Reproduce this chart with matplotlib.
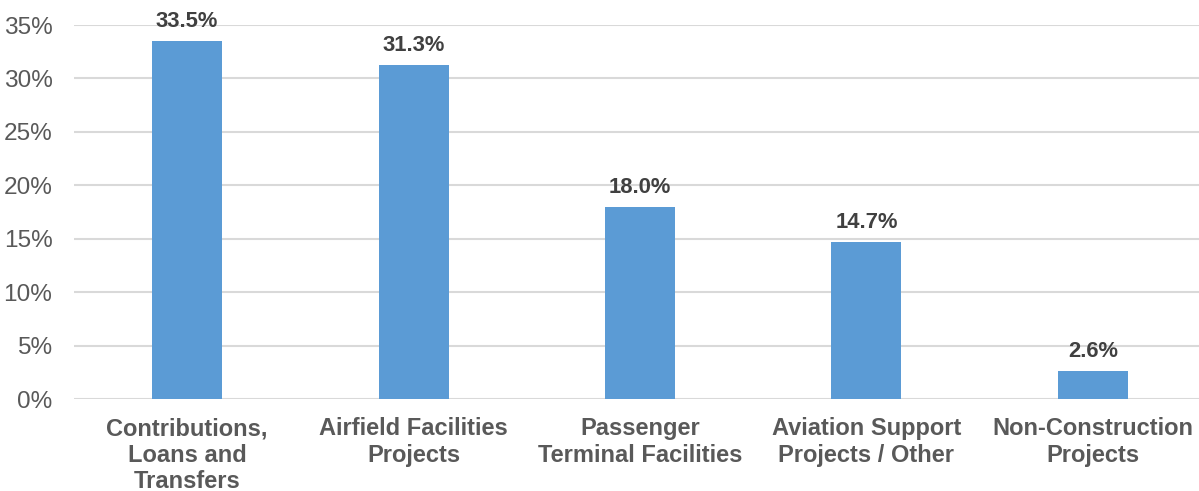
import numpy as np
import matplotlib.pyplot as plt

plt.rcParams['font.family'] = ['Liberation Sans', 'DejaVu Sans']

categories = ["Contributions,\nLoans and\nTransfers", "Airfield Facilities\nProjects",
              "Passenger\nTerminal Facilities", "Aviation Support\nProjects / Other",
              "Non-Construction\nProjects"]
values = [33.5, 31.3, 18.0, 14.7, 2.6]
yticks = [0, 5, 10, 15, 20, 25, 30, 35]

fig = plt.figure(figsize=(11.99, 4.91), dpi=100)
ax = fig.add_axes([74/1199, 92/491, (1206-74)/1199, 374/491])

x = np.arange(len(categories))
ax.bar(x, values, width=0.31, color='#5B9BD5', zorder=3)

for xi, v in zip(x, values):
    ax.annotate(f"{v:.1f}%", (xi, v), xytext=(0, 6.5), textcoords='offset points',
                ha='center', va='bottom', fontsize=15.8, fontweight='bold', color='#404040')

ax.set_xlim(-0.5, len(categories) - 0.5)
ax.set_ylim(0, 35)
ax.set_yticks(yticks)
ax.set_yticklabels([f"{t}%" for t in yticks])
ax.set_xticks(x)
ax.set_xticklabels(categories, fontsize=17, fontweight='bold', color='#595959', linespacing=1.2)
ax.tick_params(axis='y', labelsize=17.6, labelcolor='#595959', length=0, pad=15.5)
ax.tick_params(axis='x', length=0, pad=13)
ax.grid(axis='y', color='#D9D9D9', linewidth=1.5, zorder=0)
ax.set_axisbelow(True)
for s in ax.spines.values():
    s.set_visible(False)

fig.savefig("out.png", dpi=100)
